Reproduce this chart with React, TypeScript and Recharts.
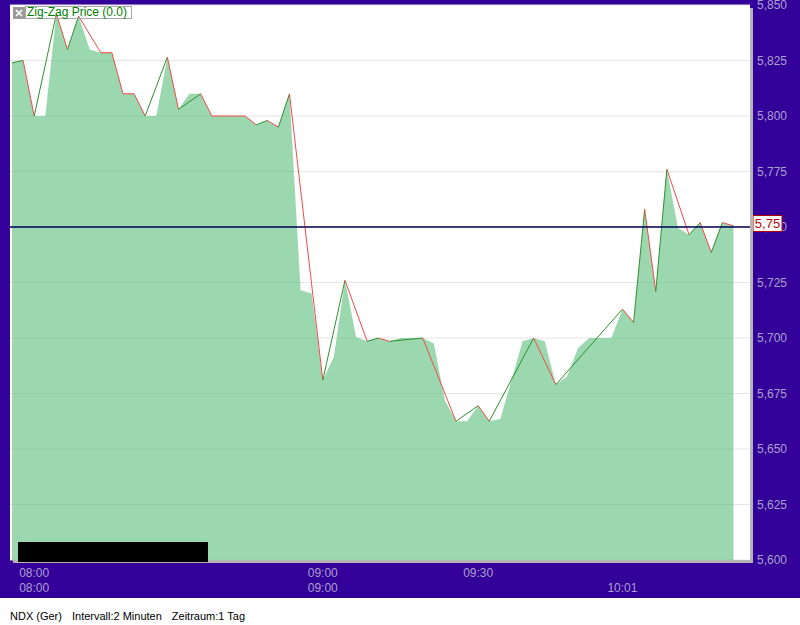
import React from "react";
import {
  ComposedChart,
  Area,
  Line,
  XAxis,
  YAxis,
  CartesianGrid,
  ReferenceLine,
} from "recharts";

// 2-minute closes, one per bar (index 0..65)
const closes = [
  5824, 5825, 5800, 5800, 5846, 5830, 5845, 5830, 5828.5, 5828.5,
  5810, 5810, 5800, 5800, 5826.5, 5803, 5810, 5810, 5800, 5800,
  5800, 5800, 5796, 5798, 5795, 5810, 5721.5, 5720, 5681, 5691.5,
  5726, 5700.5, 5698.5, 5700, 5698.5, 5700, 5700, 5700, 5697.5, 5672,
  5662.5, 5662.5, 5669.5, 5662.5, 5663.5, 5681, 5698.5, 5700, 5698.5, 5679,
  5682.5, 5695.5, 5700, 5700, 5700, 5713, 5707, 5758, 5721, 5776,
  5749.5, 5746.5, 5752, 5738.5, 5752, 5750.5,
];

// zig-zag turning points (bar index, price)
const zigIdx = [
  0, 1, 2, 4, 5, 6, 8, 9, 10, 11, 12, 14, 15, 17, 18, 21, 22, 23, 24, 25,
  28, 30, 32, 33, 34, 37, 40, 42, 43, 47, 49, 55, 56, 57, 58, 59, 61, 62,
  63, 64, 65,
];
const zigVal = [
  5824, 5825, 5800, 5846, 5830, 5845, 5828.5, 5828.5, 5810, 5810, 5800,
  5826.5, 5803, 5810, 5800, 5800, 5796, 5798, 5795, 5810, 5681, 5726,
  5698.5, 5700, 5698.5, 5700, 5662.5, 5669.5, 5662.5, 5700, 5679, 5713,
  5707, 5758, 5721, 5776, 5746.5, 5752, 5738.5, 5752, 5750.5,
];

// time labels (two rows) at bar indices
const tickIdx = [2, 28, 42, 55];
const tickTop = ["08:00", "09:00", "09:30", ""];
const tickBottom = ["08:00", "09:00", "", "10:01"];

const priceTicks = [5600, 5625, 5650, 5675, 5700, 5725, 5750, 5775, 5800, 5825, 5850];
const lastPrice = 5750;
const lastPriceLabel = "5,75";

const PURPLE = "#330099";
const AXIS_TEXT = "#aaa0cc";
const UP = "#2f8f2f";
const DOWN = "#f24a4a";

const areaData = closes.map((v, i) => ({ i, v }));

// one two-point line per zig-zag leg, green up / red otherwise
const legs = zigIdx.slice(1).map((x, k) => ({
  up: zigVal[k + 1] > zigVal[k],
  data: [
    { i: zigIdx[k], v: zigVal[k] },
    { i: x, v: zigVal[k + 1] },
  ],
}));

const TimeTick = (props: any) => {
  const { x, y, payload } = props;
  const k = tickIdx.indexOf(payload.value);
  return (
    <g fill={AXIS_TEXT} fontSize={12}>
      <text x={x} y={y + 13} textAnchor="middle" dominantBaseline="central">
        {tickTop[k]}
      </text>
      <text x={x} y={y + 28} textAnchor="middle" dominantBaseline="central">
        {tickBottom[k]}
      </text>
    </g>
  );
};

// price tick; the last-price tag is drawn on top of its tick
const PriceTick = (props: any) => {
  const { x, y, payload } = props;
  const v = payload.value as number;
  return (
    <g>
      <text x={x} y={y} textAnchor="start" dominantBaseline="central" fill={AXIS_TEXT} fontSize={12}>
        {v.toLocaleString("en-US")}
      </text>
      {v === lastPrice && (
        <g>
          <rect x={x - 4} y={y - 11.5} width={29} height={16} fill="#ffffff" stroke="#b00000" />
          <text
            x={x + 10.5}
            y={y - 3.5}
            textAnchor="middle"
            dominantBaseline="central"
            fill="#c00000"
            fontSize={13}
          >
            {lastPriceLabel}
          </text>
        </g>
      )}
    </g>
  );
};

export default function App() {
  return (
    <div
      style={{
        position: "absolute",
        top: 0,
        left: 0,
        width: 800,
        height: 625,
        background: "#ffffff",
        fontFamily: "'Liberation Sans', Arial, sans-serif",
      }}
    >
      <div style={{ position: "absolute", top: 0, left: 0, width: 800, height: 598, background: PURPLE }}>
        <ComposedChart
          width={800}
          height={598}
          data={areaData}
          margin={{ top: 5, right: 0, bottom: 0, left: 10 }}
        >
          <CartesianGrid horizontal vertical={false} stroke="#e6e6e6" fill="#ffffff" fillOpacity={1} />
          <XAxis
            type="number"
            dataKey="i"
            domain={[-0.18, 66.49]}
            allowDataOverflow
            ticks={tickIdx}
            interval={0}
            height={38}
            axisLine={false}
            tickLine={false}
            tickSize={0}
            tickMargin={0}
            tick={<TimeTick />}
          />
          <YAxis
            orientation="right"
            type="number"
            domain={[5600, 5850]}
            allowDataOverflow
            ticks={priceTicks}
            interval={0}
            width={50}
            axisLine={false}
            tickLine={false}
            tickSize={0}
            tickMargin={7}
            tick={<PriceTick />}
          />
          <Area
            type="linear"
            dataKey="v"
            stroke="none"
            fill="rgb(88,190,123)"
            fillOpacity={0.6}
            isAnimationActive={false}
          />
          {legs.map((leg, k) => (
            <Line
              key={k}
              data={leg.data}
              dataKey="v"
              type="linear"
              stroke={leg.up ? UP : DOWN}
              strokeWidth={1}
              dot={false}
              activeDot={false}
              isAnimationActive={false}
            />
          ))}
          <ReferenceLine y={lastPrice} stroke="#000055" strokeWidth={1.3} />
        </ComposedChart>
      </div>

      {/* plot frame shadow */}
      <div style={{ position: "absolute", left: 750, top: 8, width: 3, height: 555, background: "#b4b4b4" }} />
      <div style={{ position: "absolute", left: 13, top: 560, width: 740, height: 3, background: "#b4b4b4" }} />
      <div style={{ position: "absolute", left: 18, top: 542, width: 190, height: 20, background: "#000000" }} />

      {/* legend */}
      <div style={{ position: "absolute", left: 13, top: 6, display: "flex", alignItems: "stretch", height: 13 }}>
        <svg width={12} height={12} style={{ display: "block", marginTop: 1 }}>
          <rect x={0} y={0} width={12} height={12} fill="#9a9a9a" />
          <line x1={3} y1={3} x2={9} y2={9} stroke="#ffffff" strokeWidth={1.6} />
          <line x1={9} y1={3} x2={3} y2={9} stroke="#ffffff" strokeWidth={1.6} />
        </svg>
        <div
          style={{
            border: "1px solid #a8a8a8",
            color: "#008000",
            fontSize: 12,
            lineHeight: "11px",
            padding: "0 4px 0 1px",
            background: "transparent",
          }}
        >
          Zig-Zag Price (0.0)
        </div>
      </div>

      {/* footer */}
      <div style={{ position: "absolute", left: 10, top: 609, fontSize: 11, lineHeight: "14px", color: "#000000", whiteSpace: "nowrap" }}>
        <span style={{ marginRight: 10 }}>NDX (Ger)</span>
        <span style={{ marginRight: 10 }}>Intervall:2 Minuten</span>
        <span>Zeitraum:1 Tag</span>
      </div>
    </div>
  );
}
